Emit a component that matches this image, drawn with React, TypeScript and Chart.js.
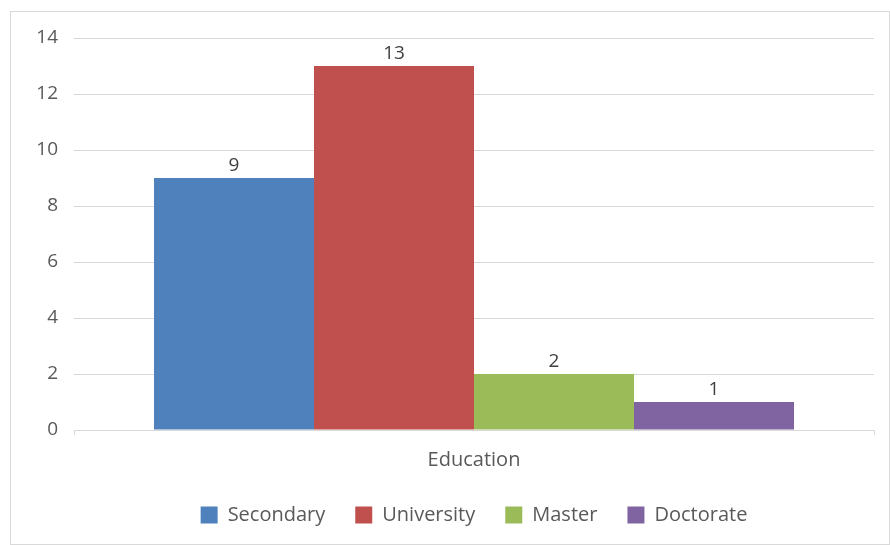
import React, { useEffect, useRef } from "react";
import { Chart, registerables } from "chart.js";

Chart.register(...registerables);

const categories = ["Education"];
const seriesNames = ["Secondary", "University", "Master", "Doctorate"];
const seriesValues = [[9], [13], [2], [1]];
const seriesColors = ["#4F81BD", "#C0504D", "#9BBB59", "#8064A2"];
const yTicks = [0, 2, 4, 6, 8, 10, 12, 14];

const FONT = "'Open Sans', sans-serif";
const TEXT = "#595959";

const valueLabels = {
  id: "valueLabels",
  afterDatasetsDraw(chart: any) {
    const ctx = chart.ctx;
    ctx.save();
    ctx.font = `19px ${FONT}`;
    ctx.fillStyle = "#404040";
    ctx.textAlign = "center";
    ctx.textBaseline = "alphabetic";
    chart.data.datasets.forEach((ds: any, i: number) => {
      const meta = chart.getDatasetMeta(i);
      meta.data.forEach((bar: any, j: number) => {
        ctx.fillText(String(ds.data[j]), bar.x, bar.y - 7);
      });
    });
    ctx.restore();
  },
};

export default function App() {
  const ref = useRef<HTMLCanvasElement>(null);
  useEffect(() => {
    if (!ref.current) return;
    const chart = new Chart(ref.current, {
      type: "bar",
      data: {
        labels: categories,
        datasets: seriesNames.map((name, i) => ({
          label: name,
          data: seriesValues[i],
          backgroundColor: seriesColors[i],
          borderWidth: 0,
          categoryPercentage: 0.8,
          barPercentage: 1,
        })),
      },
      options: {
        animation: false,
        responsive: true,
        maintainAspectRatio: false,
        layout: { padding: { top: 26, left: 0, right: 15, bottom: 9 } },
        plugins: {
          tooltip: { enabled: false },
          legend: {
            position: "bottom",
            fullSize: false,
            labels: {
              boxWidth: 17,
              boxHeight: 17,
              padding: 30,
              color: TEXT,
              font: { family: FONT, size: 20 },
            },
          },
        },
        scales: {
          x: {
            grid: {
              drawOnChartArea: false,
              drawTicks: true,
              tickLength: 5,
              color: "#d9d9d9",
              offset: true,
            },
            border: { color: "#d9d9d9", width: 1 },
            ticks: { color: TEXT, font: { family: FONT, size: 20 }, padding: 13 },
            afterFit: (s: any) => {
              s.height = 45;
            },
          },
          y: {
            min: 0,
            max: 14,
            afterBuildTicks: (s: any) => {
              s.ticks = yTicks.map((v) => ({ value: v }));
            },
            grid: { color: "#d9d9d9", drawTicks: false },
            border: { display: false },
            ticks: { color: TEXT, font: { family: FONT, size: 19 }, padding: 16 },
            afterFit: (s: any) => {
              s.width = 63;
              s.paddingTop = 0;
              s.paddingBottom = 0;
            },
          },
        },
      },
      plugins: [valueLabels],
    });
    return () => chart.destroy();
  }, []);
  return (
    <div
      style={{
        position: "absolute",
        left: 10,
        top: 11,
        width: 880,
        height: 534,
        border: "1px solid #d9d9d9",
        boxSizing: "border-box",
        background: "#fff",
      }}
    >
      <canvas ref={ref} />
    </div>
  );
}
